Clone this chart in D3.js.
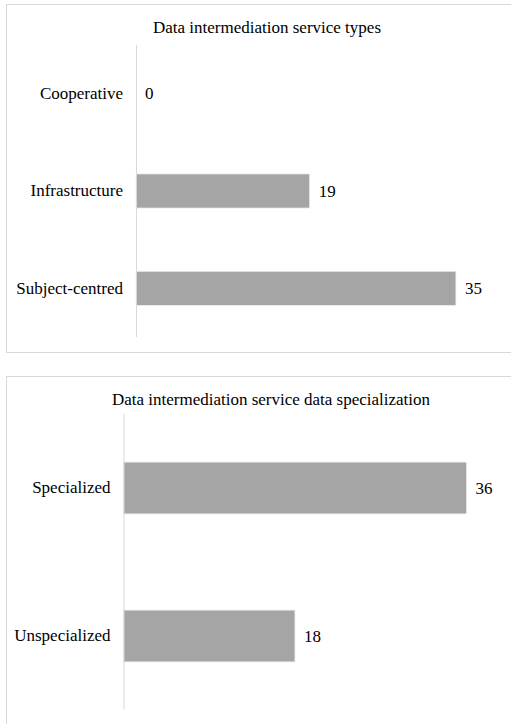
<!DOCTYPE html>
<html>
<head>
<meta charset="utf-8">
<script src="https://cdn.jsdelivr.net/npm/d3@7"></script>
<style>
  html, body { margin: 0; padding: 0; background: #fff; }
  svg { display: block; }
  text { font-family: "Liberation Serif", "Times New Roman", serif; fill: #000; }
</style>
</head>
<body>
<svg id="chart" width="511" height="724"></svg>
<script>
// Chart 1: service types
const typeTitle = "Data intermediation service types";
const typeCategories = ["Cooperative", "Infrastructure", "Subject-centred"];
const typeValues = [0, 19, 35];

// Chart 2: data specialization
const specTitle = "Data intermediation service data specialization";
const specCategories = ["Specialized", "Unspecialized"];
const specValues = [36, 18];

const FONT = 17;
const FAMILY = '"Liberation Serif", "Times New Roman", serif';
const svg = d3.select("#chart");

function barPanel(cfg) {
  const g = svg.append("g");
  // panel frame
  g.append("rect")
    .attr("x", cfg.box[0] + 0.5).attr("y", cfg.box[1] + 0.5)
    .attr("width", cfg.box[2]).attr("height", cfg.box[3])
    .attr("fill", "#fff").attr("stroke", "#d9d9d9").attr("stroke-width", 1);

  g.append("text")
    .attr("x", cfg.titleX).attr("y", cfg.titleY)
    .attr("text-anchor", "middle")
    .attr("dominant-baseline", "central")
    .style("font-family", FAMILY)
    .style("font-size", FONT + "px")
    .text(cfg.title);

  const x = d3.scaleLinear().domain([0, 40]).range([cfg.x0, cfg.x1]);
  const y = d3.scaleBand().domain(cfg.categories).range([cfg.y0, cfg.y1]).paddingInner(0.65).paddingOuter(0.325);

  const rows = cfg.categories.map((c, i) => ({ c, v: cfg.values[i] }));

  g.selectAll("rect.bar").data(rows).join("rect")
    .attr("class", "bar")
    .attr("x", x(0))
    .attr("y", d => y(d.c))
    .attr("width", d => x(d.v) - x(0))
    .attr("height", y.bandwidth())
    .attr("fill", "#a5a5a5")
    .attr("stroke", "#ececec")
    .attr("stroke-width", d => d.v > 0 ? 0.75 : 0);

  // category axis
  const axis = d3.axisLeft(y).tickSize(0).tickPadding(13);
  const ag = g.append("g").attr("transform", `translate(${x(0)},0)`).call(axis);
  ag.select(".domain").attr("stroke", "#d9d9d9").attr("d", `M0.5,${cfg.y0}V${cfg.y1}`);
  ag.selectAll("text")
    .style("font-family", FAMILY)
    .style("font-size", FONT + "px")
    .attr("fill", "#000");

  // value labels
  g.selectAll("text.val").data(rows).join("text")
    .attr("class", "val")
    .attr("x", d => x(d.v) + 9)
    .attr("y", d => y(d.c) + y.bandwidth() / 2)
    .attr("dominant-baseline", "central")
    .style("font-family", FAMILY)
    .style("font-size", FONT + "px")
    .text(d => d.v);
}

barPanel({
  box: [6, 4, 530, 348],
  title: typeTitle, titleX: 267, titleY: 27,
  categories: typeCategories, values: typeValues,
  x0: 136, x1: 501.6, y0: 45, y1: 337
});

barPanel({
  box: [6, 376, 530, 380],
  title: specTitle, titleX: 271, titleY: 399,
  categories: specCategories, values: specValues,
  x0: 123.5, x1: 504.5, y0: 414, y1: 710
});
</script>
</body>
</html>
